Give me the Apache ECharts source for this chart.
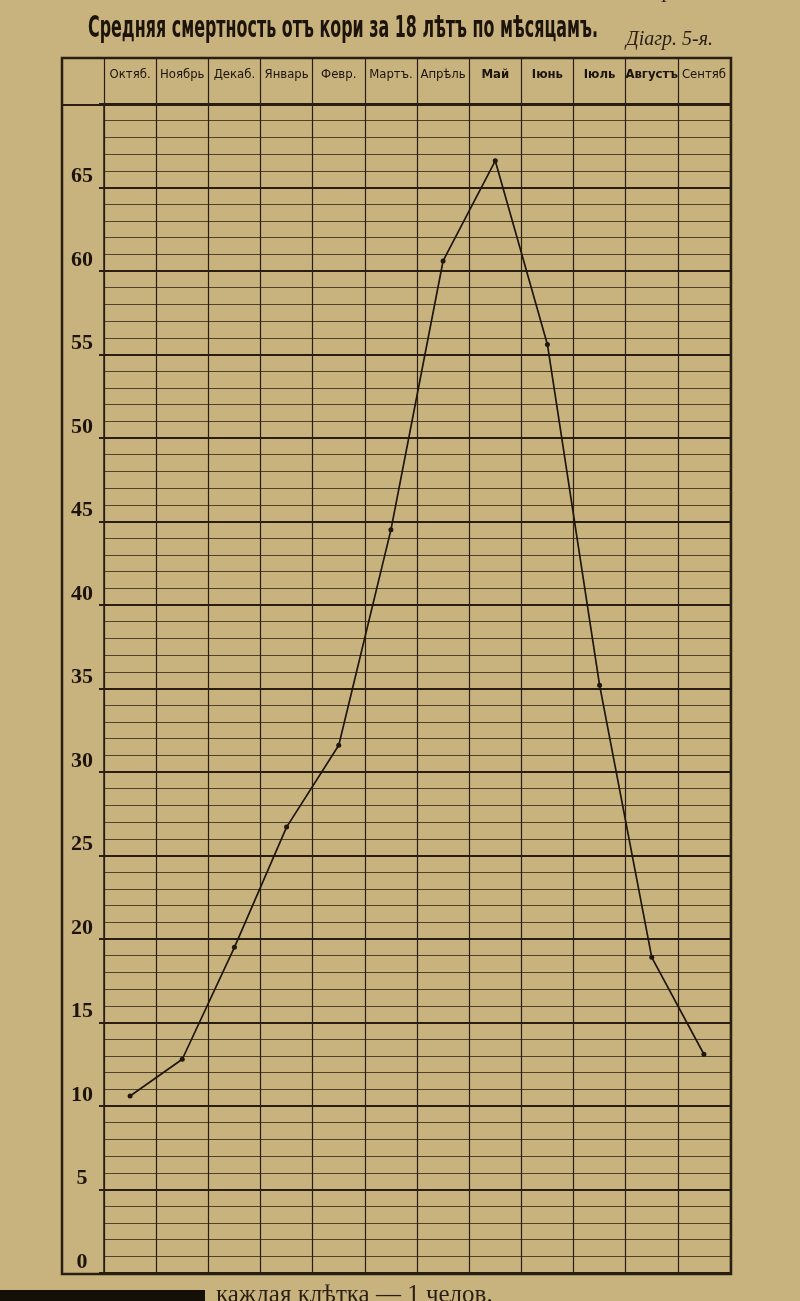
<!DOCTYPE html>
<html>
<head>
<meta charset="utf-8">
<script src="https://cdn.jsdelivr.net/npm/echarts@6/dist/echarts.min.js"></script>
<style>
html,body{margin:0;padding:0;background:#c9b37e;}
#chart{width:800px;height:1301px;}
</style>
</head>
<body>
<div id="chart"></div>
<script>
// ---- data ----
const months = ['Октяб.', 'Ноябрь', 'Декаб.', 'Январь', 'Февр.', 'Мартъ.', 'Апрѣль', 'Май', 'Іюнь', 'Іюль', 'Августъ', 'Сентяб'];
const deaths = [10.6, 12.8, 19.5, 26.7, 31.6, 44.5, 60.6, 66.6, 55.6, 35.2, 18.9, 13.1];
const yTickLabels = ['0', '5', '10', '15', '20', '25', '30', '35', '40', '45', '50', '55', '60', '65'];
const boldMonths = ['Май', 'Іюнь', 'Іюль', 'Августъ'];
const titleText = 'Средняя смертность отъ кори за 18 лѣтъ по мѣсяцамъ.';
const diagText = 'Діагр. 5-я.';
const pageRef = 'къ стр. 21';
const footText = 'каждая клѣтка — 1 челов.';

// ---- style ----
const ink = '#2a1e12';
const minorInk = 'rgba(50,36,22,0.8)';
const narrow = "'Liberation Sans Narrow', 'DejaVu Sans Condensed', 'Roboto', sans-serif";
const serif = "'Liberation Serif', 'DejaVu Serif', serif";

function measure(font, text) {
  const c = document.createElement('canvas').getContext('2d');
  c.font = font;
  return c.measureText(text).width;
}
const titleFont = 'bold 31px ' + narrow;
const titleScale = 510 / measure(titleFont, titleText);

const chart = echarts.init(document.getElementById('chart'), null, {renderer: 'canvas'});

const option = {
  backgroundColor: '#c8b37e',
  animation: false,
  grid: [
    {left: 104, right: 70, top: 104, bottom: 28},
    {left: 104, right: 70, top: 58, height: 46}
  ],
  xAxis: [
    {
      type: 'category', gridIndex: 0, data: months, position: 'top', boundaryGap: true,
      axisLine: {show: false}, axisTick: {show: false},
      axisLabel: {
        show: true, interval: 0, margin: 29, verticalAlign: 'middle',
        color: '#1c130a', fontFamily: narrow, fontSize: 13,
        formatter: function (v) { return boldMonths.indexOf(v) >= 0 ? '{b|' + v + '}' : v; },
        rich: {b: {fontWeight: 'bold', fontFamily: narrow, fontSize: 13, color: '#1c130a'}}
      },
      splitLine: {show: true, interval: 0, lineStyle: {color: ink, width: 1.2}}
    },
    {
      type: 'category', gridIndex: 1, data: months, boundaryGap: true,
      axisLine: {show: false}, axisTick: {show: false}, axisLabel: {show: false},
      splitLine: {show: true, interval: 0, lineStyle: {color: ink, width: 1.2}}
    }
  ],
  yAxis: [
    {
      type: 'value', gridIndex: 0, min: 0, max: 70, interval: 1,
      axisLabel: {show: false}, axisTick: {show: false},
      axisLine: {show: true, lineStyle: {color: ink, width: 1.5}},
      splitLine: {show: true, lineStyle: {color: minorInk, width: 1}}
    },
    {
      type: 'value', gridIndex: 0, min: 0, max: 70, interval: 5, position: 'left',
      axisLine: {show: false},
      axisTick: {show: true, length: 5, lineStyle: {color: ink, width: 2}},
      axisLabel: {
        show: true, margin: 22, align: 'center', verticalAlign: 'bottom',
        color: '#1c130a', fontFamily: serif, fontWeight: 'bold', fontSize: 22,
        formatter: function (v) { const i = Math.round(v / 5); return i < yTickLabels.length ? yTickLabels[i] : ''; }
      },
      splitLine: {show: true, lineStyle: {color: ink, width: 2}}
    },
    {type: 'value', gridIndex: 1, show: false, min: 0, max: 1}
  ],
  series: [{
    type: 'line', xAxisIndex: 0, yAxisIndex: 1, data: deaths,
    symbol: 'circle', symbolSize: 5, showSymbol: true,
    lineStyle: {color: '#1f160c', width: 1.7},
    itemStyle: {color: '#1f160c'},
    z: 10
  }],
  graphic: [
    {type: 'rect', shape: {x: 62, y: 58, width: 669, height: 1216}, style: {fill: 'none', stroke: ink, lineWidth: 2.5}, z: 20},
    {type: 'line', shape: {x1: 62, y1: 105, x2: 731, y2: 105}, style: {stroke: ink, lineWidth: 2}, z: 20},
    {type: 'text', x: 88, y: 44, scaleX: titleScale, originX: 0, originY: 0,
      style: {text: titleText, font: titleFont, fill: '#1c130a', verticalAlign: 'bottom'}},
    {type: 'text', x: 626, y: 50,
      style: {text: diagText, font: 'italic 20px ' + serif, fill: '#2a1e12', verticalAlign: 'bottom'}},
    {type: 'text', x: 610, y: 2,
      style: {text: pageRef, font: 'italic 22px ' + serif, fill: '#2a1e12', verticalAlign: 'bottom'}},
    {type: 'rect', shape: {x: 0, y: 1290, width: 205, height: 11}, style: {fill: '#141008'}},
    {type: 'text', x: 216, y: 1308,
      style: {text: footText, font: '25px ' + serif, fill: '#2a1e12', verticalAlign: 'bottom'}}
  ]
};
chart.setOption(option);
</script>
</body>
</html>
